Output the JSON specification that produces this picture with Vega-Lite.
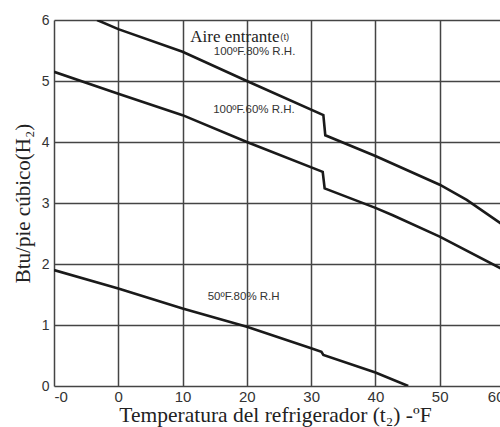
{
  "$schema": "https://vega.github.io/schema/vega-lite/v6.json",
  "width": 450,
  "height": 366,
  "autosize": {"type": "none"},
  "padding": {"left": 54, "top": 20, "right": 0, "bottom": 41},
  "background": "white",
  "view": {"stroke": null},
  "config": {
    "axis": {
      "grid": true,
      "gridColor": "#444444",
      "gridWidth": 1.5,
      "domain": false,
      "ticks": false,
      "labelFont": "Liberation Sans",
      "labelColor": "#333333",
      "titleFont": "Liberation Serif",
      "titleFontWeight": "normal",
      "titleColor": "#222222"
    }
  },
  "datasets": {
    "curves": [
      {"series": "100F80", "i": 0, "t": -3.3, "h": 6.0},
      {"series": "100F80", "i": 1, "t": 0, "h": 5.85},
      {"series": "100F80", "i": 2, "t": 10, "h": 5.48},
      {"series": "100F80", "i": 3, "t": 20, "h": 5.0},
      {"series": "100F80", "i": 4, "t": 31.9, "h": 4.44},
      {"series": "100F80", "i": 5, "t": 32.2, "h": 4.11},
      {"series": "100F80", "i": 6, "t": 40, "h": 3.77},
      {"series": "100F80", "i": 7, "t": 50, "h": 3.3},
      {"series": "100F80", "i": 8, "t": 54.2, "h": 3.05},
      {"series": "100F80", "i": 9, "t": 60, "h": 2.63},
      {"series": "100F60", "i": 0, "t": -10, "h": 5.15},
      {"series": "100F60", "i": 1, "t": 0, "h": 4.79},
      {"series": "100F60", "i": 2, "t": 10, "h": 4.44},
      {"series": "100F60", "i": 3, "t": 20, "h": 4.0},
      {"series": "100F60", "i": 4, "t": 31.8, "h": 3.51},
      {"series": "100F60", "i": 5, "t": 32.1, "h": 3.24},
      {"series": "100F60", "i": 6, "t": 40, "h": 2.92},
      {"series": "100F60", "i": 7, "t": 42.7, "h": 2.8},
      {"series": "100F60", "i": 8, "t": 50, "h": 2.45},
      {"series": "100F60", "i": 9, "t": 60, "h": 1.9},
      {"series": "50F80", "i": 0, "t": -10, "h": 1.9},
      {"series": "50F80", "i": 1, "t": 0, "h": 1.6},
      {"series": "50F80", "i": 2, "t": 10, "h": 1.27},
      {"series": "50F80", "i": 3, "t": 20, "h": 0.97},
      {"series": "50F80", "i": 4, "t": 30, "h": 0.62},
      {"series": "50F80", "i": 5, "t": 31.6, "h": 0.56},
      {"series": "50F80", "i": 6, "t": 31.9, "h": 0.51},
      {"series": "50F80", "i": 7, "t": 40, "h": 0.22},
      {"series": "50F80", "i": 8, "t": 45.1, "h": 0.0}
    ],
    "title": [{"t": 11.2, "h": 5.645, "label": "Aire entrante"}],
    "sup": [{"t": 25.2, "h": 5.68, "label": "(t)"}],
    "labels": [
      {"t": 21.2, "h": 5.42, "label": "100ºF.80% R.H."},
      {"t": 21.1, "h": 4.48, "label": "100ºF.60% R.H."},
      {"t": 19.5, "h": 1.41, "label": "50ºF.80% R.H"}
    ]
  },
  "layer": [
    {
      "data": {"name": "curves"},
      "mark": {"type": "line", "color": "#1a1a1a", "strokeWidth": 2.6, "clip": true},
      "encoding": {
        "x": {
          "field": "t", "type": "quantitative",
          "scale": {"domain": [-10, 60], "nice": false, "zero": false},
          "axis": {
            "values": [-10, 0, 10, 20, 30, 40, 50, 60],
            "labelExpr": "datum.value == -10 ? '-0' : datum.label",
            "labelFontSize": 15,
            "labelPadding": 3,
            "title": "Temperatura del refrigerador (t₂) -ºF",
            "titleFontSize": 21.5,
            "titlePadding": 0,
            "titleX": 221
          }
        },
        "y": {
          "field": "h", "type": "quantitative",
          "scale": {"domain": [0, 6], "nice": false},
          "axis": {
            "values": [0, 1, 2, 3, 4, 5, 6],
            "format": "d",
            "labelFontSize": 14,
            "labelPadding": 5,
            "title": "Btu/pie cúbico(H₂)",
            "titleFontSize": 21,
            "titlePadding": 8
          }
        },
        "detail": {"field": "series"},
        "order": {"field": "i", "type": "quantitative"}
      }
    },
    {
      "data": {"name": "title"},
      "mark": {"type": "text", "font": "Liberation Serif", "fontSize": 17, "align": "left", "baseline": "alphabetic", "color": "#222222"},
      "encoding": {
        "x": {"field": "t", "type": "quantitative"},
        "y": {"field": "h", "type": "quantitative"},
        "text": {"field": "label"}
      }
    },
    {
      "data": {"name": "sup"},
      "mark": {"type": "text", "font": "Liberation Sans", "fontSize": 9.5, "align": "left", "baseline": "alphabetic", "color": "#333333"},
      "encoding": {
        "x": {"field": "t", "type": "quantitative"},
        "y": {"field": "h", "type": "quantitative"},
        "text": {"field": "label"}
      }
    },
    {
      "data": {"name": "labels"},
      "mark": {"type": "text", "font": "Liberation Sans", "fontSize": 11.5, "align": "center", "baseline": "alphabetic", "color": "#333333"},
      "encoding": {
        "x": {"field": "t", "type": "quantitative"},
        "y": {"field": "h", "type": "quantitative"},
        "text": {"field": "label"}
      }
    }
  ]
}
